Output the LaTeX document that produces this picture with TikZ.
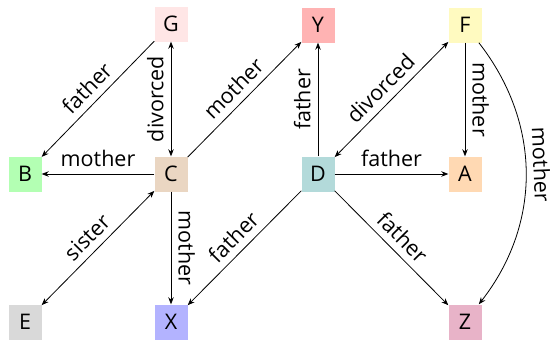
\documentclass[tikz,border=0pt]{standalone}
\usepackage{fontspec}
\setmainfont{Open Sans}
\usetikzlibrary{arrows.meta}
\definecolor{cG}{HTML}{FFE6E6}
\definecolor{cY}{HTML}{FFB3B3}
\definecolor{cF}{HTML}{FFFAC0}
\definecolor{cB}{HTML}{B3FFB3}
\definecolor{cC}{HTML}{EAD6C2}
\definecolor{cD}{HTML}{B3DADA}
\definecolor{cA}{HTML}{FFD9B3}
\definecolor{cE}{HTML}{D9D9D9}
\definecolor{cX}{HTML}{B3B3FF}
\definecolor{cZ}{HTML}{E8B3C8}
\begin{document}
\begin{tikzpicture}[x=1pt,y=-1pt,
  person/.style={minimum width=33pt,minimum height=35pt,inner sep=0pt,font=\fontsize{21.5}{24}\selectfont},
  rel/.style={line width=0.8pt,-{Stealth[length=7pt,width=5.5pt]}},
  birel/.style={line width=0.8pt,{Stealth[length=7pt,width=5.5pt]}-{Stealth[length=7pt,width=5.5pt]}},
  lab/.style={font=\fontsize{21.5}{24}\selectfont,sloped,above,inner sep=7pt}]
\useasboundingbox (0,0) rectangle (555,340);
\node[person,fill=cG] (G) at (171,24) {G};
\node[person,fill=cY] (Y) at (318,25) {Y};
\node[person,fill=cF] (F) at (465,25) {F};
\node[person,fill=cB] (B) at (25,174) {B};
\node[person,fill=cC] (C) at (171,174) {C};
\node[person,fill=cD] (D) at (318,174) {D};
\node[person,fill=cA] (A) at (465,174) {A};
\node[person,fill=cE] (E) at (25,322) {E};
\node[person,fill=cX] (X) at (171,322) {X};
\node[person,fill=cZ] (Z) at (465,322) {Z};
\draw[rel] (G) -- node[lab] {father} (B);
\draw[birel] (C) -- node[lab] {divorced} (G);
\draw[rel] (C) -- node[lab] {mother} (Y);
\draw[rel] (C) -- node[lab] {mother} (B);
\draw[birel] (C) -- node[lab] {sister} (E);
\draw[rel] (C) -- node[lab] {mother} (X);
\draw[rel] (D) -- node[lab] {father} (Y);
\draw[birel] (D) -- node[lab] {divorced} (F);
\draw[rel] (D) -- node[lab] {father} (A);
\draw[rel] (D) -- node[lab] {father} (X);
\draw[rel] (D) -- node[lab] {father} (Z);
\draw[rel] (F) -- node[lab] {mother} (A);
\draw[rel] (F) to[bend left=38] node[lab,pos=0.47] {mother} (Z);
\end{tikzpicture}
\end{document}
